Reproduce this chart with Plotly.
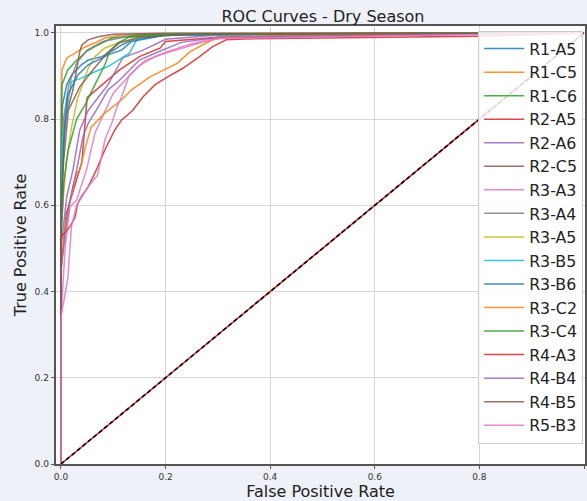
import plotly.graph_objects as go

names = ["R1-A5", "R1-C5", "R1-C6", "R2-A5", "R2-A6", "R2-C5", "R3-A3", "R3-A4", "R3-A5",
         "R3-B5", "R3-B6", "R3-C2", "R3-C4", "R4-A3", "R4-B4", "R4-B5", "R5-B3"]

colors = ["#1f77b4", "#ff7f0e", "#2ca02c", "#d62728", "#9467bd", "#8c564b", "#e377c2", "#7f7f7f",
          "#bcbd22", "#17becf", "#1f77b4", "#ff7f0e", "#2ca02c", "#d62728", "#9467bd", "#8c564b", "#e377c2"]

fpr_r1_a5 = [0, 0, 0.003, 0.011, 0.02, 0.039, 0.052, 0.078, 0.097, 0.116, 0.14, 0.2, 0.4, 1.0]
tpr_r1_a5 = [0, 0.70, 0.833, 0.88, 0.902, 0.926, 0.937, 0.945, 0.957, 0.972, 0.985, 0.995, 0.998, 1.0]

fpr_r1_c5 = [0, 0, 0.002, 0.011, 0.027, 0.042, 0.065, 0.084, 0.116, 0.2, 1.0]
tpr_r1_c5 = [0, 0.80, 0.914, 0.942, 0.953, 0.965, 0.977, 0.988, 0.995, 0.998, 1.0]

fpr_r1_c6 = [0, 0, 0.002, 0.013, 0.027, 0.049, 0.071, 0.097, 0.15, 0.3, 1.0]
tpr_r1_c6 = [0, 0.65, 0.88, 0.914, 0.933, 0.957, 0.972, 0.988, 0.995, 0.998, 1.0]

fpr_r2_a5 = [0, 0, 0.01, 0.025, 0.04, 0.05, 0.074, 0.112, 0.15, 0.19, 0.2, 0.3, 0.6, 1.0]
tpr_r2_a5 = [0, 0.45, 0.58, 0.64, 0.70, 0.85, 0.875, 0.914, 0.945, 0.965, 0.98, 0.99, 0.995, 1.0]

fpr_r2_a6 = [0, 0, 0.011, 0.023, 0.036, 0.052, 0.071, 0.09, 0.118, 0.157, 0.2, 0.3, 1.0]
tpr_r2_a6 = [0, 0.5, 0.62, 0.683, 0.775, 0.82, 0.85, 0.88, 0.942, 0.96, 0.985, 0.995, 1.0]

fpr_r2_c5 = [0, 0, 0.005, 0.011, 0.023, 0.03, 0.036, 0.04, 0.052, 0.071, 0.1, 0.2, 1.0]
tpr_r2_c5 = [0, 0.6, 0.75, 0.814, 0.868, 0.92, 0.957, 0.972, 0.984, 0.991, 0.997, 0.999, 1.0]

fpr_r3_a3 = [0, 0, 0.008, 0.017, 0.03, 0.049, 0.065, 0.084, 0.1, 0.13, 0.16, 0.2, 0.25, 0.3, 1.0]
tpr_r3_a3 = [0, 0.34, 0.5, 0.596, 0.613, 0.683, 0.768, 0.82, 0.86, 0.9, 0.935, 0.955, 0.975, 0.99, 1.0]

fpr_r3_a4 = [0, 0, 0.005, 0.015, 0.03, 0.05, 0.08, 0.12, 0.2, 1.0]
tpr_r3_a4 = [0, 0.6, 0.8, 0.88, 0.93, 0.96, 0.98, 0.99, 0.997, 1.0]

fpr_r3_a5 = [0, 0, 0.01, 0.02, 0.032, 0.052, 0.065, 0.084, 0.116, 0.2, 1.0]
tpr_r3_a5 = [0, 0.55, 0.7, 0.78, 0.849, 0.918, 0.945, 0.965, 0.98, 0.995, 1.0]

fpr_r3_b5 = [0, 0, 0.002, 0.02, 0.039, 0.065, 0.09, 0.116, 0.131, 0.145, 0.2, 1.0]
tpr_r3_b5 = [0, 0.5, 0.75, 0.887, 0.895, 0.91, 0.922, 0.942, 0.953, 0.985, 0.995, 1.0]

fpr_r3_b6 = [0, 0, 0.008, 0.013, 0.032, 0.052, 0.09, 0.116, 0.135, 0.2, 1.0]
tpr_r3_b6 = [0, 0.6, 0.8, 0.856, 0.902, 0.926, 0.949, 0.96, 0.98, 0.995, 1.0]

fpr_r3_c2 = [0, 0, 0.008, 0.017, 0.023, 0.03, 0.036, 0.049, 0.058, 0.084, 0.116, 0.135,
             0.17, 0.2, 0.223, 0.246, 0.29, 0.32, 0.5, 1.0]
tpr_r3_c2 = [0, 0.45, 0.55, 0.605, 0.643, 0.675, 0.683, 0.745, 0.782, 0.814, 0.845, 0.868,
             0.898, 0.916, 0.93, 0.956, 0.984, 0.99, 0.995, 1.0]

fpr_r3_c4 = [0, 0, 0.005, 0.014, 0.03, 0.046, 0.065, 0.084, 0.093, 0.109, 0.13, 0.2, 1.0]
tpr_r3_c4 = [0, 0.5, 0.65, 0.729, 0.8, 0.833, 0.88, 0.926, 0.957, 0.977, 0.99, 0.997, 1.0]

fpr_r4_a3 = [0, 0, 0.017, 0.027, 0.032, 0.039, 0.052, 0.068, 0.084, 0.103, 0.116, 0.137, 0.157,
             0.18, 0.2, 0.233, 0.265, 0.29, 0.316, 0.35, 0.8, 1.0]
tpr_r4_a3 = [0, 0.527, 0.55, 0.573, 0.605, 0.62, 0.643, 0.683, 0.729, 0.775, 0.798, 0.82, 0.852,
             0.88, 0.895, 0.918, 0.945, 0.968, 0.984, 0.986, 0.992, 1.0]

fpr_r4_b4 = [0, 0, 0.015, 0.03, 0.042, 0.052, 0.071, 0.09, 0.112, 0.15, 0.19, 0.23, 0.3, 1.0]
tpr_r4_b4 = [0, 0.45, 0.6, 0.683, 0.759, 0.79, 0.828, 0.868, 0.89, 0.937, 0.958, 0.978, 0.99, 1.0]

fpr_r4_b5 = [0, 0, 0.005, 0.014, 0.036, 0.061, 0.088, 0.112, 0.15, 0.25, 1.0]
tpr_r4_b5 = [0, 0.55, 0.7, 0.82, 0.875, 0.914, 0.953, 0.977, 0.99, 0.997, 1.0]

fpr_r5_b3 = [0, 0, 0.013, 0.02, 0.03, 0.05, 0.07, 0.084, 0.097, 0.107, 0.116, 0.13, 0.15,
             0.18, 0.22, 0.26, 0.3, 1.0]
tpr_r5_b3 = [0, 0.34, 0.43, 0.55, 0.6, 0.64, 0.67, 0.752, 0.79, 0.828, 0.852, 0.9, 0.925,
             0.945, 0.96, 0.975, 0.987, 1.0]

fprs = [fpr_r1_a5, fpr_r1_c5, fpr_r1_c6, fpr_r2_a5, fpr_r2_a6, fpr_r2_c5, fpr_r3_a3, fpr_r3_a4,
        fpr_r3_a5, fpr_r3_b5, fpr_r3_b6, fpr_r3_c2, fpr_r3_c4, fpr_r4_a3, fpr_r4_b4, fpr_r4_b5, fpr_r5_b3]
tprs = [tpr_r1_a5, tpr_r1_c5, tpr_r1_c6, tpr_r2_a5, tpr_r2_a6, tpr_r2_c5, tpr_r3_a3, tpr_r3_a4,
        tpr_r3_a5, tpr_r3_b5, tpr_r3_b6, tpr_r3_c2, tpr_r3_c4, tpr_r4_a3, tpr_r4_b4, tpr_r4_b5, tpr_r5_b3]

diag = [0, 1]
x_ticks = [0.0, 0.2, 0.4, 0.6, 0.8, 1.0]
y_ticks = [0.0, 0.2, 0.4, 0.6, 0.8, 1.0]

fig = go.Figure()
for n, c, fx, ty in zip(names, colors, fprs, tprs):
    fig.add_trace(go.Scatter(x=fx, y=ty, mode="lines", name=n,
                             line=dict(color=c, width=1.5), opacity=0.85))

fig.add_trace(go.Scatter(x=diag, y=diag, mode="lines", showlegend=False,
                         line=dict(color="#d62728", width=1.6)))
fig.add_trace(go.Scatter(x=diag, y=diag, mode="lines", showlegend=False,
                         line=dict(color="black", width=1.6, dash="4px,3px")))

axis_common = dict(
    showgrid=True, gridcolor="#d6d6d6", gridwidth=1,
    showline=True, linecolor="#555555", linewidth=1.5, mirror=True,
    ticks="outside", ticklen=3.5, tickcolor="#555555", tickwidth=1,
    tickfont=dict(family="DejaVu Sans", size=9, color="#333333"),
    zeroline=False, tickformat=".1f",
)

fig.update_layout(
    width=587, height=501,
    margin=dict(l=56, r=0, t=26, b=37),
    paper_bgcolor="#eff1f8", plot_bgcolor="white",
    font=dict(family="DejaVu Sans", color="#222222"),
    title=dict(text="ROC Curves - Dry Season", x=(323) / 587, xanchor="center",
               y=1 - 16 / 501, yanchor="middle", font=dict(size=16, color="#222222")),
    xaxis=dict(range=[-0.0095, 1.0019], tickvals=x_ticks,
               title=dict(text="False Positive Rate", font=dict(size=16), standoff=8), **axis_common),
    yaxis=dict(range=[0, 1.016], tickvals=y_ticks,
               title=dict(text="True Positive Rate", font=dict(size=16), standoff=4), **axis_common),
    legend=dict(x=0.798, xanchor="left", y=0.989, yanchor="top",
                bgcolor="rgba(255,255,255,0.85)", bordercolor="#cccccc", borderwidth=1,
                font=dict(family="DejaVu Sans", size=15.8, color="#222222"),
                traceorder="normal", itemwidth=40),
    showlegend=True,
)

fig.write_html("out.html")
